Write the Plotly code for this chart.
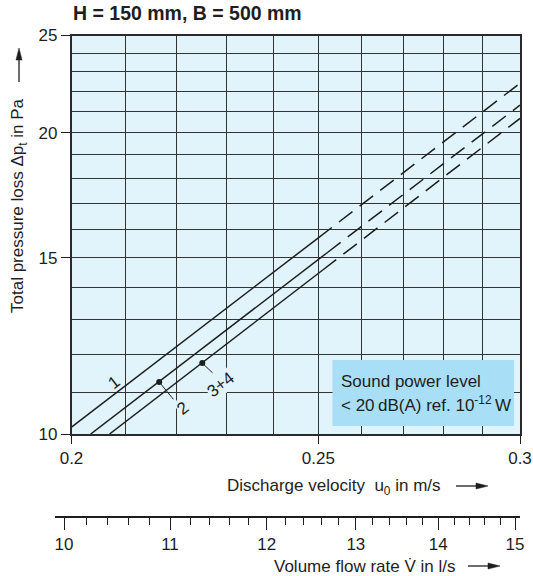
import math
import plotly.graph_objects as go

# ---------------- data ----------------
u_ticks = [0.2, 0.25, 0.3]
u_ticktext = ["0.2", "0.25", "0.3"]
u_grid = [0.21, 0.22, 0.23, 0.24, 0.26, 0.27, 0.28, 0.29]
dp_ticks = [10, 15, 20, 25]
dp_grid = [11, 12, 13, 14, 16, 17, 18, 19, 21, 22, 23, 24]
flow_ticks = [10, 11, 12, 13, 14, 15]
flow_minor = [10.2, 10.4, 10.6, 10.8, 11.2, 11.4, 11.6, 11.8, 12.2, 12.4, 12.6, 12.8,
              13.2, 13.4, 13.6, 13.8, 14.2, 14.4, 14.6, 14.8]

line1_solid_u = [0.200, 0.250]
line1_solid_dp = [10.16, 15.70]
line1_dash_u = [0.250, 0.300]
line1_dash_dp = [15.70, 22.40]

line2_solid_u = [0.2035, 0.252]
line2_solid_dp = [10.0, 15.17]
line2_dash_u = [0.252, 0.300]
line2_dash_dp = [15.17, 21.30]

line3_solid_u = [0.2070, 0.251]
line3_solid_dp = [10.0, 14.58]
line3_dash_u = [0.251, 0.300]
line3_dash_dp = [14.58, 20.66]

marker_u = [0.2165, 0.2251]
marker_dp = [11.27, 11.77]
leader2_u = [0.2165, 0.2193]
leader2_dp = [11.27, 10.83]
leader3_u = [0.2251, 0.2272]
leader3_dp = [11.77, 11.51]

label_text = ["1", "2", "3+4"]
label_u = [0.2078, 0.2211, 0.2289]
label_dp = [11.27, 10.61, 11.21]

# ---------------- style ----------------
W, H = 533, 576
L, R, T, B = 71.5, 520.0, 35.5, 434.0
AX2 = 516          # pixel row of the volume-flow axis line
FONT = "Liberation Sans, Arial, sans-serif"
FS = 17
INK = "#1e1e1e"
GRID = "#333333"
BG = "#e1f3fb"
BOX = "#a9def7"


def px(x):
    return x / W


def py(y):
    return 1 - y / H


fig = go.Figure()

LW = 1.5
for su, sd, du, dd in [
    (line1_solid_u, line1_solid_dp, line1_dash_u, line1_dash_dp),
    (line2_solid_u, line2_solid_dp, line2_dash_u, line2_dash_dp),
    (line3_solid_u, line3_solid_dp, line3_dash_u, line3_dash_dp),
]:
    fig.add_trace(go.Scatter(x=su, y=sd, mode="lines", line=dict(color=INK, width=LW),
                             hoverinfo="skip"))
    fig.add_trace(go.Scatter(x=du, y=dd, mode="lines",
                             line=dict(color=INK, width=LW, dash="17px,9px"),
                             hoverinfo="skip"))

for lu, ld in [(leader2_u, leader2_dp), (leader3_u, leader3_dp)]:
    fig.add_trace(go.Scatter(x=lu, y=ld, mode="lines", line=dict(color=INK, width=1),
                             hoverinfo="skip"))

fig.add_trace(go.Scatter(x=marker_u, y=marker_dp, mode="markers",
                         marker=dict(color=INK, size=6), hoverinfo="skip"))

# invisible trace to carry the volume-flow axis
fig.add_trace(go.Scatter(x=flow_ticks, y=[0.5] * len(flow_ticks), xaxis="x2", yaxis="y2",
                         mode="markers", marker=dict(opacity=0), hoverinfo="skip"))

tickfont = dict(family=FONT, size=FS, color=INK)

# flow axis: 10 at x=64px, 15 at x=515px; line from 55 to 520
dec = (515 - 64) / math.log10(1.5)
x2_lo = 1 - (64 - 55) / dec
x2_hi = math.log10(15) + (520 - 515) / dec

fig.update_layout(
    template="none",
    width=W, height=H,
    margin=dict(l=0, r=0, t=0, b=0, pad=0),
    paper_bgcolor="white",
    plot_bgcolor="rgba(0,0,0,0)",
    showlegend=False,
    xaxis=dict(
        type="log", domain=[px(L), px(R)], automargin=False,
        range=[math.log10(0.2), math.log10(0.3)],
        tickmode="array", tickvals=u_ticks, ticktext=u_ticktext,
        ticks="outside", ticklen=8, tickwidth=1.2, tickcolor=INK,
        showline=True, linecolor="#2a2a2a", linewidth=1.5, mirror=True,
        showgrid=True, gridcolor=GRID, gridwidth=1,
        minor=dict(tickmode="array", tickvals=u_grid, showgrid=True, gridcolor=GRID,
                   gridwidth=1, ticks=""),
        zeroline=False, tickfont=tickfont, anchor="y",
    ),
    yaxis=dict(
        type="log", domain=[py(B), py(T)], automargin=False,
        range=[1, math.log10(25)],
        tickmode="array", tickvals=dp_ticks, ticktext=[str(v) for v in dp_ticks],
        ticks="outside", ticklen=9, tickwidth=1.2, tickcolor=INK,
        showline=True, linecolor="#2a2a2a", linewidth=1.5, mirror=True,
        showgrid=True, gridcolor=GRID, gridwidth=1,
        minor=dict(tickmode="array", tickvals=dp_grid, showgrid=True, gridcolor=GRID,
                   gridwidth=1, ticks=""),
        zeroline=False, tickfont=tickfont, anchor="x",
    ),
    xaxis2=dict(
        type="log", domain=[px(55), px(520)], range=[x2_lo, x2_hi], automargin=False,
        tickmode="array", tickvals=flow_ticks, ticktext=[str(v) for v in flow_ticks],
        ticks="outside", ticklen=12, tickwidth=1.2, tickcolor=INK,
        showline=True, linecolor=INK, linewidth=1.5,
        showgrid=False, zeroline=False,
        minor=dict(tickmode="array", tickvals=flow_minor, ticks="outside", ticklen=7,
                   tickwidth=1.2, tickcolor=INK, showgrid=False),
        tickfont=tickfont, anchor="y2",
    ),
    yaxis2=dict(domain=[py(AX2), py(AX2 - 1)], range=[0, 1], visible=False, anchor="x2",
                automargin=False),
)


def arrow_h(x_tail, x_tip, y):
    """horizontal arrow in pixel coords -> shapes"""
    return [
        dict(type="line", xref="paper", yref="paper", x0=px(x_tail), x1=px(x_tip - 8),
             y0=py(y), y1=py(y), line=dict(color=INK, width=1.3)),
        dict(type="path", xref="paper", yref="paper",
             path=f"M {px(x_tip)} {py(y)} L {px(x_tip - 12)} {py(y - 3)} "
                  f"L {px(x_tip - 12)} {py(y + 3)} Z",
             fillcolor=INK, line=dict(color=INK, width=0.5)),
    ]


def arrow_v(x, y_tail, y_tip):
    return [
        dict(type="line", xref="paper", yref="paper", x0=px(x), x1=px(x),
             y0=py(y_tail), y1=py(y_tip + 8), line=dict(color=INK, width=1.3)),
        dict(type="path", xref="paper", yref="paper",
             path=f"M {px(x)} {py(y_tip)} L {px(x - 3)} {py(y_tip + 12)} "
                  f"L {px(x + 3)} {py(y_tip + 12)} Z",
             fillcolor=INK, line=dict(color=INK, width=0.5)),
    ]


shapes = [
    dict(type="rect", xref="x domain", yref="y domain", x0=0, x1=1, y0=0, y1=1,
         fillcolor=BG, line=dict(width=0), layer="below"),
    dict(type="rect", xref="paper", yref="paper",
         x0=px(332.5), x1=px(514), y0=py(426), y1=py(360),
         fillcolor=BOX, line=dict(width=0), layer="above"),
]
shapes += arrow_v(19, 82, 48)
shapes += arrow_h(456, 488, 486)
shapes += arrow_h(468, 500, 566)
fig.update_layout(shapes=shapes)

ann = []
# title
ann.append(dict(text="<b>H = 150 mm, B = 500 mm</b>", x=px(71), y=py(13), xref="paper",
                yref="paper", xanchor="left", yanchor="middle", showarrow=False,
                font=dict(family=FONT, size=19.5, color=INK)))
# y title
ann.append(dict(text="Total pressure loss Δp<sub>t</sub> in Pa", x=px(19), y=py(206),
                xref="paper", yref="paper", textangle=-90, xanchor="center",
                yanchor="middle", showarrow=False, font=tickfont))
# x titles
ann.append(dict(text="Discharge velocity  u<sub>0</sub> in m/s", x=px(443), y=py(487),
                xref="paper", yref="paper", xanchor="right", yanchor="middle",
                showarrow=False, font=tickfont))
ann.append(dict(text="Volume flow rate V\u0307 in l/s", x=px(457), y=py(566),
                xref="paper", yref="paper", xanchor="right", yanchor="middle",
                showarrow=False, font=tickfont))
# curve labels
for t, u, d in zip(label_text, label_u, label_dp):
    ann.append(dict(text=t, x=math.log10(u), y=math.log10(d), xref="x", yref="y",
                    textangle=-38, showarrow=False, font=tickfont,
                    bgcolor=BG if t != "1" else None, borderpad=0))
# box text
ann.append(dict(text="Sound power level", x=px(339), y=py(381), xref="paper", yref="paper",
                xanchor="left", yanchor="middle", showarrow=False, font=tickfont))
ann.append(dict(text="< 20\u2009dB(A) ref. 10<sup>-12</sup>\u2009W", x=px(339), y=py(404),
                xref="paper", yref="paper", xanchor="left", yanchor="middle",
                showarrow=False, font=tickfont))
fig.update_layout(annotations=ann)

fig.write_html("out.html", config={"displayModeBar": False},
               post_script="document.body.style.margin='0';"
                           "document.body.style.overflow='hidden';")
